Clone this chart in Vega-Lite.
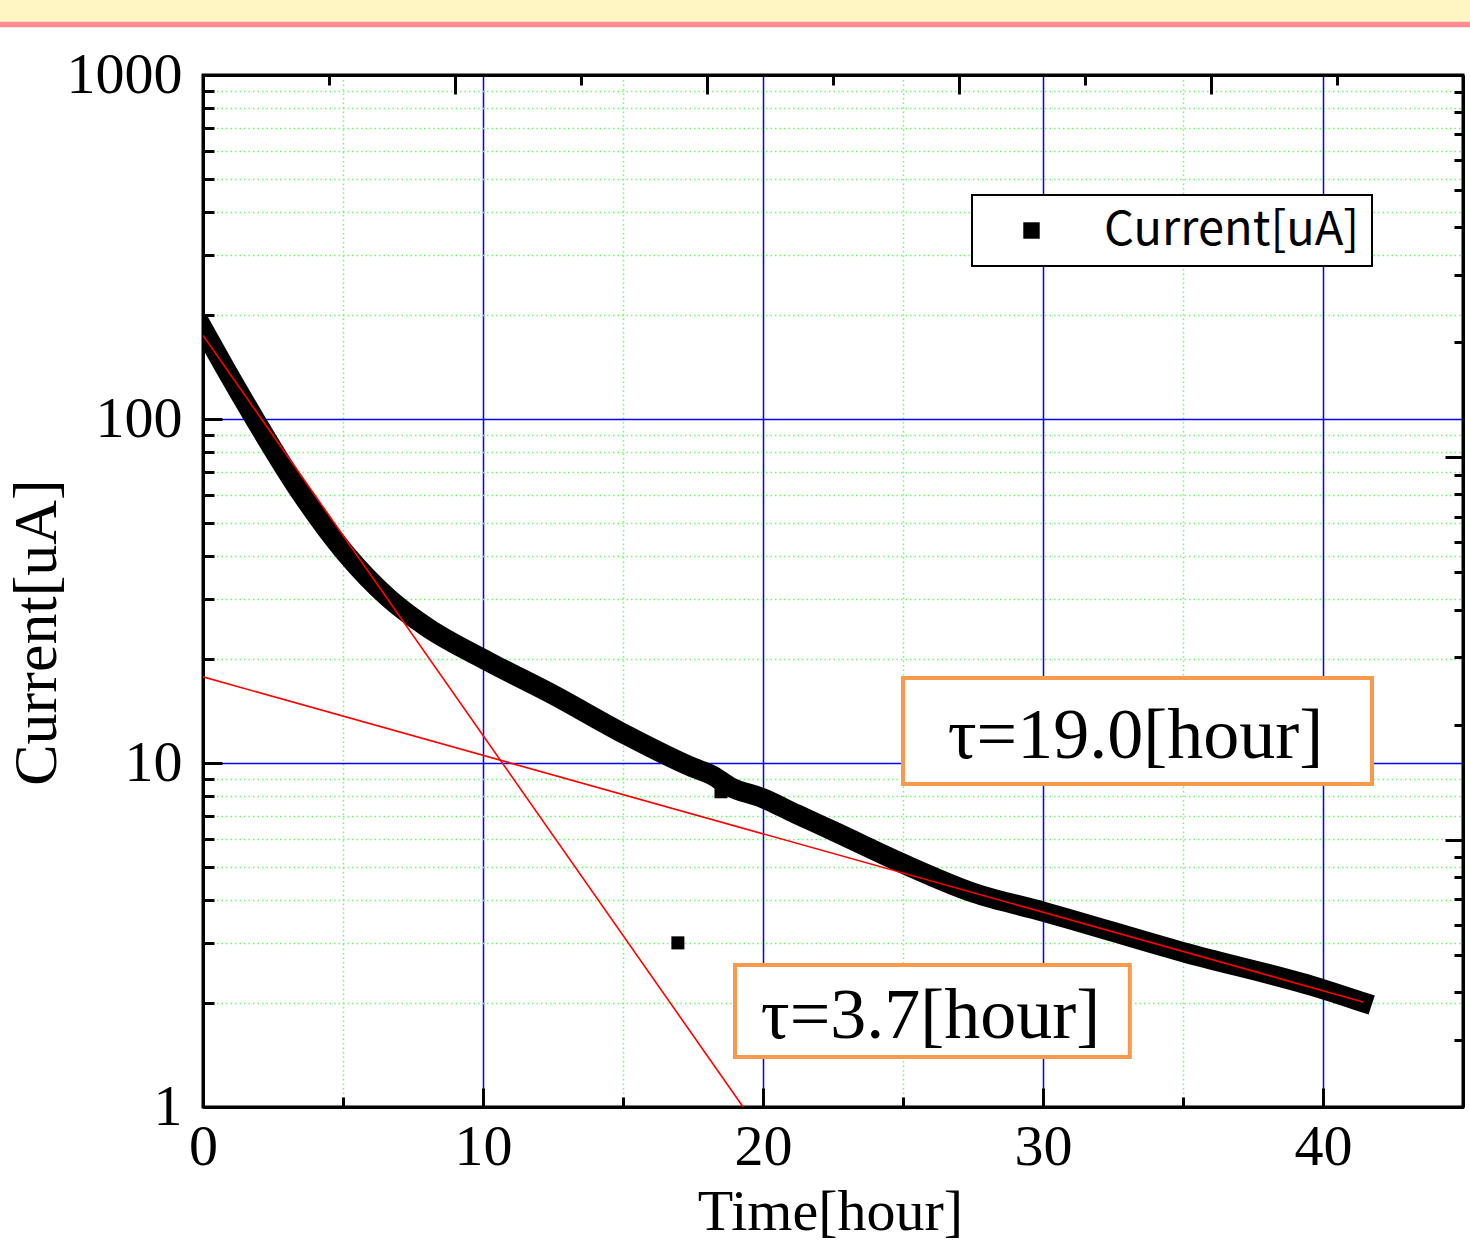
{
  "$schema": "https://vega.github.io/schema/vega-lite/v6.json",
  "width": 1260,
  "height": 1032,
  "autosize": {"type": "none"},
  "padding": {"left": 203, "top": 75, "right": 7, "bottom": 136},
  "background": "white",
  "config": {
    "view": {"stroke": "black", "strokeWidth": 3},
    "axis": {
      "labelFont": "Liberation Serif",
      "labelFontSize": 58,
      "labelColor": "black",
      "labelFlush": false,
      "tickColor": "black",
      "tickWidth": 3,
      "domainColor": "black",
      "domainWidth": 3,
      "titleFont": "Liberation Serif",
      "titleFontWeight": "normal",
      "titleColor": "black"
    },
    "legend": {"strokeWidth": 2}
  },
  "datasets": {
    "header": [
      {"part": "band", "x1": -7.25, "x2": 45.25, "y1": 1429, "y2": 1652},
      {"part": "line", "x1": -7.25, "x2": 45.25, "y1": 1376, "y2": 1429}
    ],
    "curve": [
      {"t": 0, "i": 183},
      {"t": 0.8, "i": 140},
      {"t": 1.93, "i": 97.5},
      {"t": 3.46, "i": 61.5},
      {"t": 5.07, "i": 40.9},
      {"t": 6.64, "i": 30.1},
      {"t": 8.0, "i": 24.8},
      {"t": 10.2, "i": 19.7},
      {"t": 12.5, "i": 15.8},
      {"t": 15.0, "i": 12.2},
      {"t": 17.5, "i": 9.7},
      {"t": 18.2, "i": 9.2},
      {"t": 18.8, "i": 8.55},
      {"t": 20.0, "i": 7.9},
      {"t": 21.2, "i": 7.1},
      {"t": 22.5, "i": 6.35},
      {"t": 25.0, "i": 5.1},
      {"t": 27.5, "i": 4.2},
      {"t": 30.0, "i": 3.7},
      {"t": 35.0, "i": 2.82},
      {"t": 40.0, "i": 2.2},
      {"t": 41.4, "i": 2.02}
    ],
    "outliers": [
      {"t": 16.96, "i": 3.0, "series": "Current[uA]"},
      {"t": 18.5, "i": 8.25, "series": "Current[uA]"}
    ],
    "fits": [
      {"fit": "tau3.7", "t": 0, "i": 175},
      {"fit": "tau3.7", "t": 19.29, "i": 1},
      {"fit": "tau19.0", "t": 0, "i": 17.8},
      {"fit": "tau19.0", "t": 41.43, "i": 2.02}
    ],
    "boxes": [
      {"label": "τ=19.0[hour]", "x1": 25.0, "x2": 41.75, "y1": 8.69, "y2": 17.67, "tx": 33.3, "ty": 10.34},
      {"label": "τ=3.7[hour]", "x1": 19.0, "x2": 33.1, "y1": 1.397, "y2": 2.587, "tx": 25.98, "ty": 1.587}
    ]
  },
  "layer": [
    {
      "data": {"name": "header"},
      "mark": {"type": "rect", "clip": false},
      "encoding": {
        "x": {"field": "x1", "type": "quantitative", "scale": {"domain": [0, 45], "nice": false}, "axis": null},
        "x2": {"field": "x2"},
        "y": {"field": "y1", "type": "quantitative", "scale": {"type": "log", "domain": [1, 1000]}, "axis": null},
        "y2": {"field": "y2"},
        "fill": {"field": "part", "type": "nominal", "scale": {"domain": ["band", "line"], "range": ["#FFF6C4", "#FF8A92"]}, "legend": null}
      }
    },
    {
      "data": {"name": "curve"},
      "mark": {"type": "line", "color": "black", "strokeWidth": 20, "strokeCap": "square", "interpolate": "monotone", "clip": true},
      "encoding": {
        "x": {
          "field": "t", "type": "quantitative",
          "scale": {"domain": [0, 45], "nice": false},
          "axis": {
            "orient": "bottom",
            "values": [0, 5, 10, 15, 20, 25, 30, 35, 40],
            "labelExpr": "datum.value % 10 == 0 ? datum.label : ''",
            "grid": true,
            "gridColor": {"condition": {"test": "datum.value % 10 == 0", "value": "#0000ff"}, "value": "#66ff66"},
            "gridDash": {"condition": {"test": "datum.value % 10 == 0", "value": []}, "value": [1.5, 3]},
            "gridWidth": 1.5,
            "tickSize": {"condition": {"test": "datum.value % 10 == 0", "value": -19}, "value": -10},
            "labelPadding": 30,
            "title": "Time[hour]",
            "titleFontSize": 58,
            "titleX": 627,
            "titleY": 122,
            "titleBaseline": "alphabetic",
            "titleAlign": "center"
          }
        },
        "y": {
          "field": "i", "type": "quantitative",
          "scale": {"type": "log", "domain": [1, 1000]},
          "axis": {
            "orient": "left",
            "values": [1, 2, 3, 4, 5, 6, 7, 8, 9, 10, 20, 30, 40, 50, 60, 70, 80, 90, 100, 200, 300, 400, 500, 600, 700, 800, 900, 1000],
            "format": "d",
            "labelExpr": "indexof([1,10,100,1000], datum.value) >= 0 ? datum.label : ''",
            "grid": true,
            "gridColor": {"condition": {"test": "indexof([1,10,100,1000], datum.value) >= 0", "value": "#0000ff"}, "value": "#66ff66"},
            "gridDash": {"condition": {"test": "indexof([1,10,100,1000], datum.value) >= 0", "value": []}, "value": [1.5, 3]},
            "gridWidth": 1.5,
            "tickSize": {"condition": {"test": "indexof([1,10,100,1000], datum.value) >= 0", "value": -19}, "value": -11},
            "labelPadding": 40,
            "title": "Current[uA]",
            "titleFontSize": 62,
            "titleX": -148,
            "titleY": 557,
            "titleAngle": 270,
            "titleBaseline": "alphabetic",
            "titleAlign": "center"
          }
        }
      }
    },
    {
      "data": {"name": "outliers"},
      "mark": {"type": "point", "shape": "square", "filled": true, "size": 170, "opacity": 1},
      "encoding": {
        "x": {"field": "t", "type": "quantitative", "scale": {"domain": [0, 45], "nice": false}, "axis": null},
        "y": {"field": "i", "type": "quantitative", "scale": {"type": "log", "domain": [1, 1000]}, "axis": null},
        "color": {
          "field": "series", "type": "nominal",
          "scale": {"domain": ["Current[uA]"], "range": ["black"]},
          "legend": {
            "orient": "none",
            "legendX": 769,
            "legendY": 120,
            "title": null,
            "padding": 12,
            "fillColor": "white",
            "strokeColor": "black",
            "symbolType": "square",
            "symbolSize": 270,
            "symbolFillColor": "black",
            "symbolStrokeWidth": 0,
            "symbolOffset": 24,
            "labelOffset": 49,
            "labelFont": "Noto Sans CJK JP",
            "labelFontSize": 47,
            "labelColor": "black",
            "labelLimit": 0
          }
        }
      }
    },
    {
      "data": {"name": "fits"},
      "mark": {"type": "line", "color": "#ff0000", "strokeWidth": 1.6, "clip": true},
      "encoding": {
        "x": {
          "field": "t", "type": "quantitative",
          "scale": {"domain": [0, 45], "nice": false},
          "axis": {
            "orient": "top",
            "values": [4.5, 9, 13.5, 18, 22.5, 27, 31.5, 36, 40.5],
            "labels": false,
            "grid": false,
            "title": null,
            "tickSize": {"condition": {"test": "datum.value % 9 == 0", "value": -19}, "value": -10}
          }
        },
        "y": {"field": "i", "type": "quantitative", "scale": {"type": "log", "domain": [1, 1000]}, "axis": null},
        "detail": {"field": "fit", "type": "nominal"}
      }
    },
    {
      "data": {"name": "curve"},
      "mark": {"type": "line", "strokeOpacity": 0, "clip": true},
      "encoding": {
        "x": {"field": "t", "type": "quantitative", "scale": {"domain": [0, 45], "nice": false}, "axis": null},
        "y": {
          "field": "i", "type": "quantitative",
          "scale": {"type": "log", "domain": [0.2, 100]},
          "axis": {
            "orient": "right",
            "values": [0.2, 0.3, 0.4, 0.5, 0.6, 0.7, 0.8, 0.9, 1, 2, 3, 4, 5, 6, 7, 8, 9, 10, 20, 30, 40, 50, 60, 70, 80, 90],
            "labels": false,
            "grid": false,
            "title": null,
            "tickSize": {"condition": {"test": "datum.value == 1 || datum.value == 10", "value": -18}, "value": -9}
          }
        }
      }
    },
    {
      "data": {"name": "boxes"},
      "mark": {"type": "rect", "fill": "white", "stroke": "#F79A4B", "strokeWidth": 4},
      "encoding": {
        "x": {"field": "x1", "type": "quantitative", "scale": {"domain": [0, 45], "nice": false}, "axis": null},
        "x2": {"field": "x2"},
        "y": {"field": "y1", "type": "quantitative", "scale": {"type": "log", "domain": [1, 1000]}, "axis": null},
        "y2": {"field": "y2"}
      }
    },
    {
      "data": {"name": "boxes"},
      "mark": {"type": "text", "font": "Liberation Serif", "fontSize": 72, "color": "black", "align": "center", "baseline": "alphabetic"},
      "encoding": {
        "x": {"field": "tx", "type": "quantitative", "scale": {"domain": [0, 45], "nice": false}, "axis": null},
        "y": {"field": "ty", "type": "quantitative", "scale": {"type": "log", "domain": [1, 1000]}, "axis": null},
        "text": {"field": "label"}
      }
    }
  ],
  "resolve": {"scale": {"y": "independent"}, "axis": {"x": "independent", "y": "independent"}}
}
